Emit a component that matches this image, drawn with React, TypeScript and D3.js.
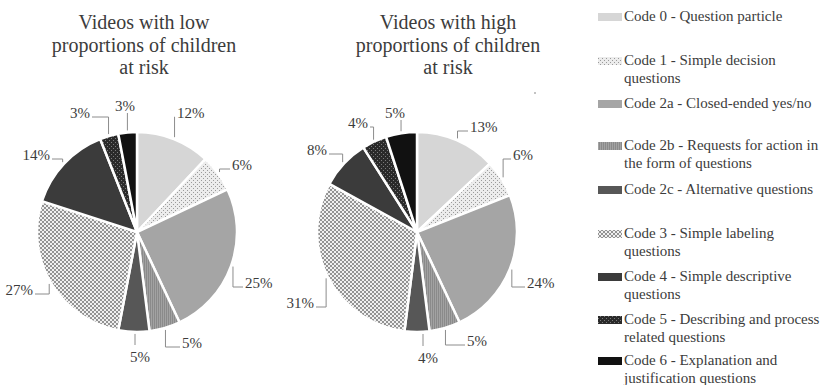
import React from "react";
import * as d3 from "d3";

const codes = ["Code 0", "Code 1", "Code 2a", "Code 2b", "Code 2c", "Code 3", "Code 4", "Code 5", "Code 6"];
const legendLines = [
  ["Code 0 - Question particle"],
  ["Code 1 - Simple decision", "questions"],
  ["Code 2a - Closed-ended yes/no"],
  ["Code 2b - Requests for action in", "the form of questions"],
  ["Code 2c - Alternative questions"],
  ["Code 3 - Simple labeling", "questions"],
  ["Code 4 - Simple descriptive", "questions"],
  ["Code 5 - Describing and process", "related questions"],
  ["Code 6 - Explanation and", "justification questions"],
];
const lowValues = [12, 6, 25, 5, 5, 27, 14, 3, 3];
const highValues = [13, 6, 24, 5, 4, 31, 8, 4, 5];
const lowTitle = ["Videos with low", "proportions of children", "at risk"];
const highTitle = ["Videos with high", "proportions of children", "at risk"];

// label layout (offset of text anchor from pie centre, anchor side)
type LP = [number, number, string];
const lowLabelPos: LP[] = [
  [40, -119, "start"], [95, -67, "start"], [108, 51, "start"], [45, 111, "start"],
  [3, 125, "below"], [-104, 58, "end"], [-87, -77, "end"], [-47, -119, "end"], [-12, -126, "above"],
];
const highLabelPos: LP[] = [
  [53, -105, "start"], [96, -77, "start"], [110, 51, "start"], [50, 109, "start"],
  [11, 126, "below"], [-103, 71, "end"], [-90, -82, "end"], [-49, -109, "end"], [-22, -119, "above"],
];

const fills = [
  "#d6d6d6", "url(#pCode1)", "#a5a5a5", "url(#pCode2b)", "#575757",
  "url(#pCode3)", "#3b3b3b", "url(#pCode5)", "#111111",
];

const FONT = "'Liberation Serif', 'Times New Roman', serif";
const TXT = "#3c3c3c";
const R = 100;

function Pie({ cx, cy, values, title, labelPos, titleX }: any) {
  const pie = d3.pie<number>().sort(null).value((d) => d);
  const arcs = pie(values);
  const arc = d3.arc<any>().innerRadius(0).outerRadius(R);
  const edge = (a: any, r: number) => {
    const m = (a.startAngle + a.endAngle) / 2;
    return [Math.sin(m) * r, -Math.cos(m) * r];
  };
  return (
    <g>
      <text x={titleX} y={0} fontFamily={FONT} fontSize={20} fill={TXT} textAnchor="middle">
        {title.map((t: string, i: number) => (
          <tspan key={i} x={titleX} y={29 + i * 22.5}>{t}</tspan>
        ))}
      </text>
      <g transform={`translate(${cx},${cy})`}>
        {arcs.map((a, i) => (
          <path key={i} d={arc(a) as string} fill={fills[i]} stroke="#ffffff" strokeWidth={2.5} strokeLinejoin="round" />
        ))}
        {arcs.map((a, i) => {
          const [ex, ey] = edge(a, R + 2);
          const [lx, ly, side] = labelPos[i];
          let d = "";
          let anchor = "start";
          if (side === "start") {
            d = `M${ex},${ey}L${ex},${ly + 4}L${lx - 2},${ly + 4}`;
            anchor = "start";
          } else if (side === "end") {
            d = `M${ex},${ey}L${ex},${ly + 4}L${lx + 2},${ly + 4}`;
            anchor = "end";
          } else if (side === "below") {
            d = `M${lx - 5},${ey}L${lx - 5},${ly - 12}`;
            anchor = "middle";
          } else {
            d = `M${ex},${ey}L${ex},${ly + 7}`;
            anchor = "middle";
          }
          return (
            <g key={"l" + i}>
              <path d={d} fill="none" stroke="#8c8c8c" strokeWidth={1} />
              <text x={lx} y={ly} dy="0.35em" fontFamily={FONT} fontSize={15} fill={TXT} textAnchor={anchor}>
                {values[i]}%
              </text>
            </g>
          );
        })}
      </g>
    </g>
  );
}

export default function App() {
  const legendY = [16, 60, 103, 145, 189, 233, 276, 319, 360];
  return (
    <svg width={827} height={385} style={{ position: "absolute", left: 0, top: 0, background: "#fff" }}>
      <defs>
        <pattern id="pCode1" width={4} height={4} patternUnits="userSpaceOnUse">
          <rect width={4} height={4} fill="#ececec" />
          <rect x={0} y={0} width={1} height={1} fill="#9a9a9a" />
          <rect x={2} y={2} width={1} height={1} fill="#9a9a9a" />
        </pattern>
        <pattern id="pCode2b" width={2} height={2} patternUnits="userSpaceOnUse">
          <rect width={2} height={2} fill="#8a8a8a" />
          <rect x={0} y={0} width={1} height={2} fill="#a2a2a2" />
        </pattern>
        <pattern id="pCode3" width={4} height={4} patternUnits="userSpaceOnUse">
          <rect width={4} height={4} fill="#f0f0f0" />
          <path d="M0,0L4,4M4,0L0,4" stroke="#939393" strokeWidth={1} />
        </pattern>
        <pattern id="pCode5" width={4} height={4} patternUnits="userSpaceOnUse">
          <rect width={4} height={4} fill="#2a2a2a" />
          <rect x={0} y={0} width={1} height={1} fill="#7a7a7a" />
          <rect x={2} y={2} width={1} height={1} fill="#7a7a7a" />
        </pattern>
      </defs>
      <rect width={827} height={385} fill="#fff" />
      <Pie cx={137} cy={232} values={lowValues} title={lowTitle} labelPos={lowLabelPos} titleX={144} />
      <Pie cx={417} cy={232} values={highValues} title={highTitle} labelPos={highLabelPos} titleX={448} />
      <circle cx={535} cy={93} r={0.8} fill="#777" />
      <g>
        {codes.map((c, i) => (
          <g key={c}>
            <rect x={598} y={legendY[i] - 3} width={24} height={8} fill={fills[i]} />
            <text fontFamily={FONT} fontSize={15} fill={TXT}>
              {legendLines[i].map((t, j) => (
                <tspan key={j} x={624} y={legendY[i] + j * 17.5} dy="0.35em">{t}</tspan>
              ))}
            </text>
          </g>
        ))}
      </g>
    </svg>
  );
}
